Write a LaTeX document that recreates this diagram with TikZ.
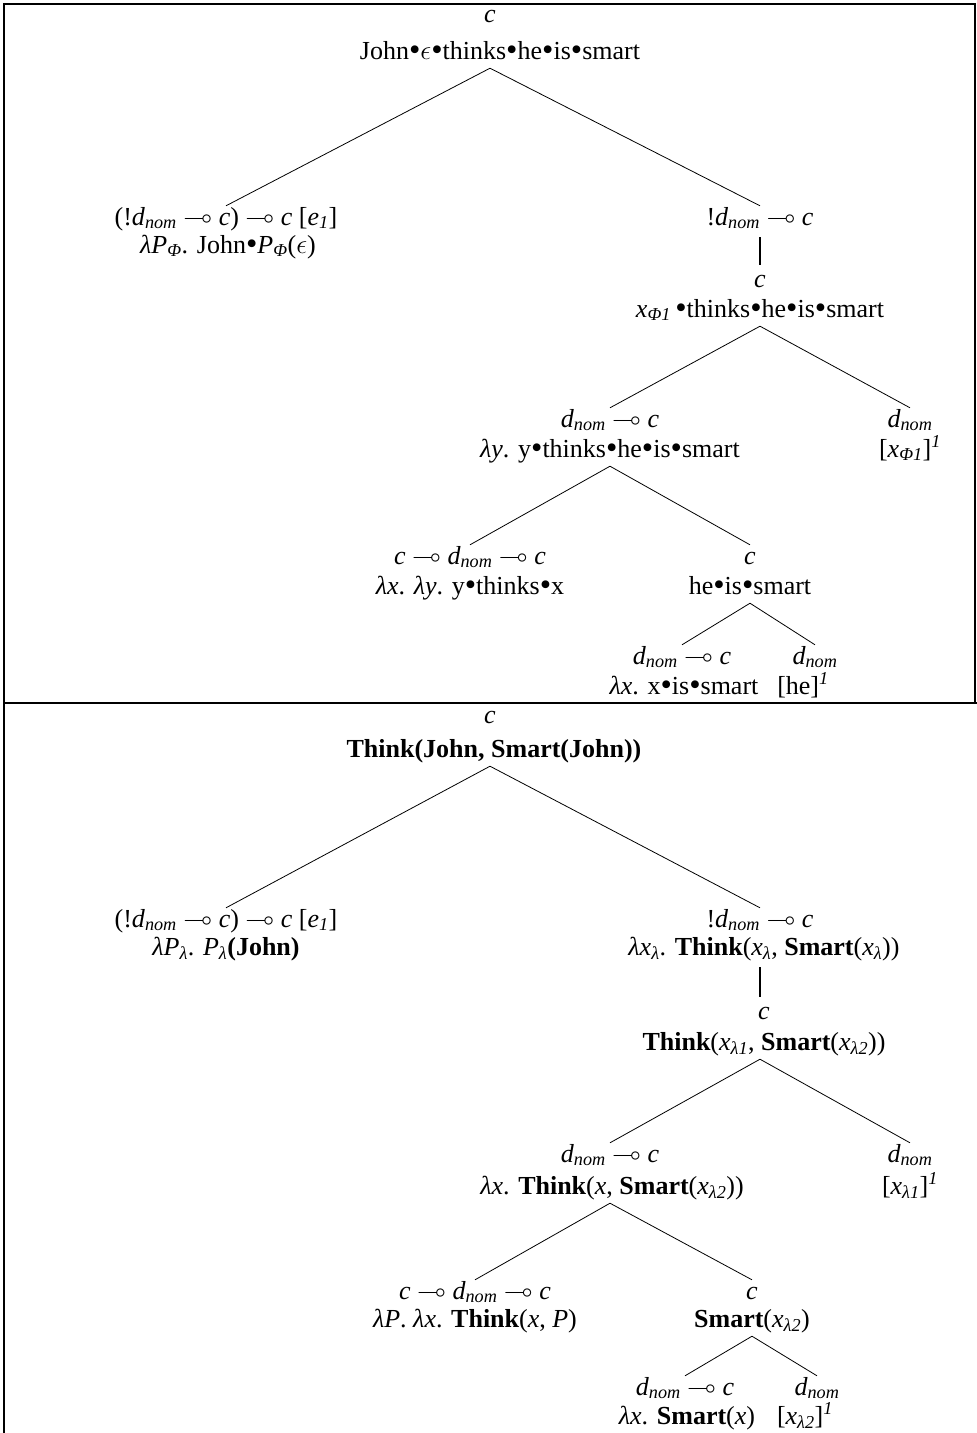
\documentclass[tikz,border=0pt]{standalone}
\usepackage{amssymb}
\usepackage{fontspec}
\setmainfont{Liberation Serif}
\newcommand\dnom{\textit{d}\textsubscript{\textit{nom}}}
\newcommand\lolli{$\multimap$}
\newcommand\lam{\textit{λ}}
\newcommand\eps{\scalebox{1.1}{$\epsilon$}}
\newcommand\bul{\raisebox{-0.07em}{\scalebox{1.25}{•}}}
\begin{document}
\begin{tikzpicture}[x=1pt,y=-1pt,
  lbl/.style={anchor=base, inner xsep=0pt, inner ysep=1pt, text height=18pt, text depth=8pt,
    font=\fontsize{26}{30}\selectfont},
  edge/.style={line width=0.8pt},
  vbar/.style={line width=1.8pt, shorten <=3pt, shorten >=3pt},
  frame/.style={line width=1.8pt}]
\path[use as bounding box] (0,0) rectangle (977,1433);
% frame
\draw[frame] (975,703) -- (975,4) -- (4,4) -- (4,1433);
\draw[frame] (4,703) -- (977,703);

% ---------- top panel ----------
\node[lbl] (t0a) at (490,22) {\textit{c}};
\node[lbl] (t0b) at (500,59) {John\bul\eps\bul thinks\bul he\bul is\bul smart};
\node[lbl] (t1a) at (226,225) {(!\dnom{} \lolli{} \textit{c}) \lolli{} \textit{c} [\textit{e}\textsubscript{\textit{1}}]};
\node[lbl] (t1b) at (228,253) {\lam\textit{P}\textsubscript{\textit{Φ}}. John\bul\textit{P}\textsubscript{\textit{Φ}}(\eps)};
\node[lbl] (t2a) at (760,225) {!\dnom{} \lolli{} \textit{c}};
\node[lbl] (t3a) at (760,287) {\textit{c}};
\node[lbl] (t3b) at (760,317) {\textit{x}\textsubscript{\textit{Φ1}}\,\bul thinks\bul he\bul is\bul smart};
\node[lbl] (t4a) at (610,427) {\dnom{} \lolli{} \textit{c}};
\node[lbl] (t4b) at (610,457) {\lam\textit{y}. y\bul thinks\bul he\bul is\bul smart};
\node[lbl] (t5a) at (910,427) {\dnom};
\node[lbl] (t5b) at (910,457) {[\textit{x}\textsubscript{\textit{Φ1}}]\textsuperscript{\textit{1}}};
\node[lbl] (t6a) at (470,564) {\textit{c} \lolli{} \dnom{} \lolli{} \textit{c}};
\node[lbl] (t6b) at (470,594) {\lam\textit{x}. \lam\textit{y}. y\bul thinks\bul x};
\node[lbl] (t7a) at (750,564) {\textit{c}};
\node[lbl] (t7b) at (750,594) {he\bul is\bul smart};
\node[lbl] (t8a) at (682,664) {\dnom{} \lolli{} \textit{c}};
\node[lbl] (t8b) at (684,694) {\lam\textit{x}. x\bul is\bul smart};
\node[lbl] (t9a) at (815,664) {\dnom};
\node[lbl] (t9b) at (803,694) {[he]\textsuperscript{\textit{1}}};

\draw[edge] (t0b.south -| t0a) -- (t1a.north);
\draw[edge] (t0b.south -| t0a) -- (t2a.north);
\draw[vbar] (t2a.south) -- (t3a.north);
\draw[edge] (t3b.south) -- (t4a.north);
\draw[edge] (t3b.south) -- (t5a.north);
\draw[edge] (t4b.south) -- (t6a.north);
\draw[edge] (t4b.south) -- (t7a.north);
\draw[edge] (t7b.south) -- (t8a.north);
\draw[edge] (t7b.south) -- (t9a.north);

% ---------- bottom panel ----------
\node[lbl] (b0a) at (490,723) {\textit{c}};
\node[lbl] (b0b) at (494,757) {\textbf{Think(John, Smart(John))}};
\node[lbl] (b1a) at (226,927) {(!\dnom{} \lolli{} \textit{c}) \lolli{} \textit{c} [\textit{e}\textsubscript{\textit{1}}]};
\node[lbl] (b1b) at (226,955) {\lam\textit{P}\textsubscript{\textit{λ}}. \textit{P}\textsubscript{\textit{λ}}\textbf{(John)}};
\node[lbl] (b2a) at (760,927) {!\dnom{} \lolli{} \textit{c}};
\node[lbl] (b2b) at (764,955) {\lam\textit{x}\textsubscript{\textit{λ}}. \textbf{Think}(\textit{x}\textsubscript{\textit{λ}}, \textbf{Smart}(\textit{x}\textsubscript{\textit{λ}}))};
\node[lbl] (b3a) at (764,1019) {\textit{c}};
\node[lbl] (b3b) at (764,1050) {\textbf{Think}(\textit{x}\textsubscript{\textit{λ1}}, \textbf{Smart}(\textit{x}\textsubscript{\textit{λ2}}))};
\node[lbl] (b4a) at (610,1162) {\dnom{} \lolli{} \textit{c}};
\node[lbl] (b4b) at (612,1194) {\lam\textit{x}. \textbf{Think}(\textit{x}, \textbf{Smart}(\textit{x}\textsubscript{\textit{λ2}}))};
\node[lbl] (b5a) at (910,1162) {\dnom};
\node[lbl] (b5b) at (910,1194) {[\textit{x}\textsubscript{\textit{λ1}}]\textsuperscript{\textit{1}}};
\node[lbl] (b6a) at (475,1299) {\textit{c} \lolli{} \dnom{} \lolli{} \textit{c}};
\node[lbl] (b6b) at (475,1327) {\lam\textit{P}. \lam\textit{x}. \textbf{Think}(\textit{x}, \textit{P})};
\node[lbl] (b7a) at (752,1299) {\textit{c}};
\node[lbl] (b7b) at (752,1327) {\textbf{Smart}(\textit{x}\textsubscript{\textit{λ2}})};
\node[lbl] (b8a) at (685,1395) {\dnom{} \lolli{} \textit{c}};
\node[lbl] (b8b) at (687,1424) {\lam\textit{x}. \textbf{Smart}(\textit{x})};
\node[lbl] (b9a) at (817,1395) {\dnom};
\node[lbl] (b9b) at (805,1424) {[\textit{x}\textsubscript{\textit{λ2}}]\textsuperscript{\textit{1}}};

\draw[edge] (b0b.south -| b0a) -- (b1a.north);
\draw[edge] (b0b.south -| b0a) -- (b2a.north);
\draw[vbar] (b2b.south -| b2a) -- (b3a.north -| b2a);
\draw[edge] (b3b.south -| b2a) -- (b4a.north);
\draw[edge] (b3b.south -| b2a) -- (b5a.north);
\draw[edge] (b4b.south -| b4a) -- (b6a.north);
\draw[edge] (b4b.south -| b4a) -- (b7a.north);
\draw[edge] (b7b.south) -- (b8a.north);
\draw[edge] (b7b.south) -- (b9a.north);
\end{tikzpicture}
\end{document}
